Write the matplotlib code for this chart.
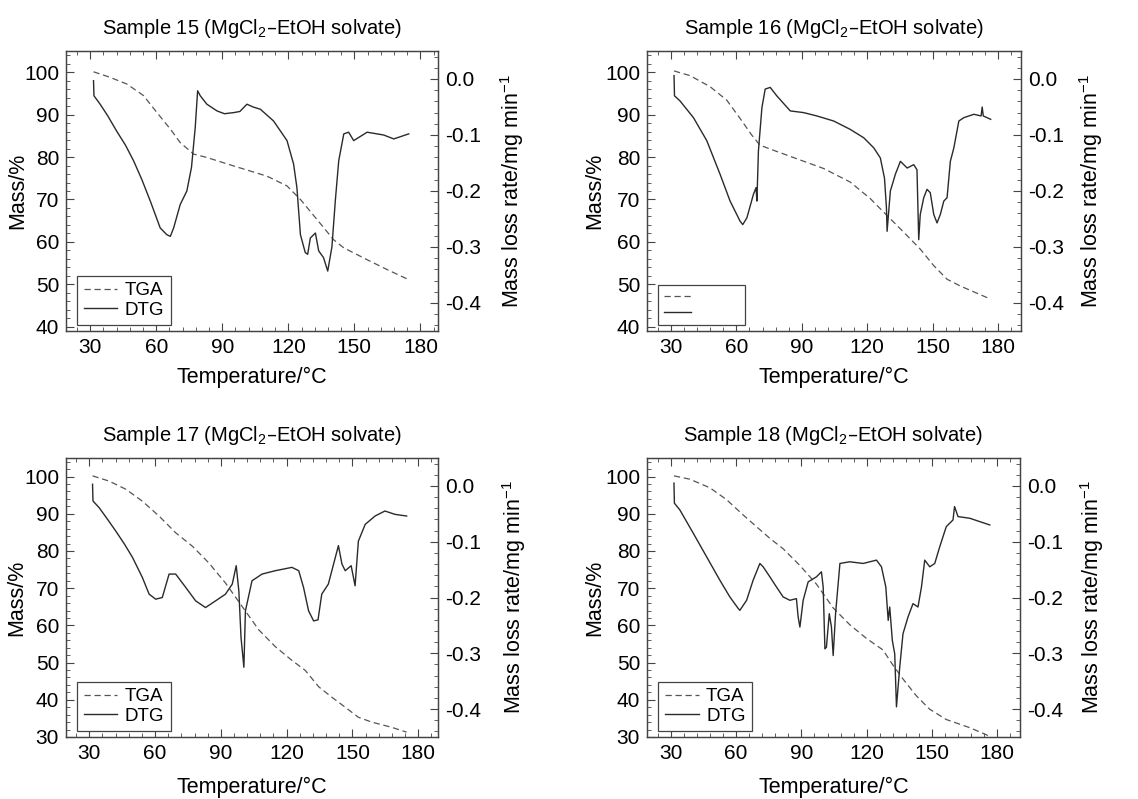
import matplotlib
matplotlib.use('Agg')
import matplotlib.pyplot as plt
from matplotlib.ticker import MultipleLocator, FormatStrFormatter

plt.rcParams['font.family'] = ['Liberation Sans', 'DejaVu Sans']
plt.rcParams['mathtext.default'] = 'regular'

# ---- sample 15 ----
t_tga_15 = [31.5, 39, 46.7, 54.2, 60.3, 66.4, 70.9, 77, 83, 95.2, 110.3, 119.4,
            125.5, 133, 140.6, 145.2, 155.8, 164.8, 174.7]
tga_15 = [100.1, 98.8, 97.2, 94.5, 90.5, 86.6, 83.4, 80.7, 79.9, 77.9, 75.5, 73.2,
          70.0, 65.3, 60.5, 58.6, 55.8, 53.5, 51.1]
t_dtg_15 = [31.5, 31.7, 34.5, 38, 42, 46, 49.7, 53.5, 57.3, 61.8, 64.8, 66.4, 67.9,
            70.9, 73.9, 76, 77.7, 78.8, 80, 83, 87.6, 91, 95.2, 98, 101.2, 104, 107.3,
            113.3, 119.4, 122.4, 123.9, 125.5, 127.7, 128.8, 130, 132.3, 133.8, 136,
            137.9, 139.8, 141.4, 142.9, 145.2, 147.4, 149.7, 155.8, 163.3, 167.9, 174.7]
dtg_15 = [-0.003, -0.03, -0.045, -0.066, -0.093, -0.118, -0.146, -0.18, -0.218, -0.266,
          -0.278, -0.281, -0.266, -0.224, -0.2, -0.158, -0.087, -0.021, -0.03, -0.045,
          -0.057, -0.062, -0.06, -0.058, -0.045, -0.05, -0.054, -0.075, -0.11, -0.152,
          -0.194, -0.278, -0.31, -0.313, -0.284, -0.275, -0.307, -0.319, -0.343, -0.3,
          -0.215, -0.146, -0.098, -0.095, -0.11, -0.095, -0.1, -0.107, -0.098]

# ---- sample 16 ----
t_tga_16 = [31.4, 38.7, 47.9, 55.6, 61.7, 67, 70.8, 77, 87.7, 100, 112.2, 121.4,
            129.1, 136.7, 144.3, 150.5, 156.6, 162.7, 176.6]
tga_16 = [100.3, 99.2, 96.6, 93.4, 89.1, 85.2, 82.8, 81.6, 79.6, 77.3, 74.1, 70.2,
          66.2, 62.3, 58.3, 54.4, 51.2, 49.6, 46.5]
t_dtg_16 = [31.4, 31.6, 34.1, 40.3, 46.4, 52.5, 57.1, 61.7, 62.9, 64.8, 67.8, 69, 69.4,
            70.1, 71.7, 73.2, 75.5, 78.5, 84.7, 90.8, 96.9, 104.6, 112.2, 118.4, 123,
            126, 127.9, 128.8, 129.1, 130.6, 132.9, 135.2, 138.3, 141.3, 142.8, 143.6,
            144.3, 145.9, 147.4, 148.9, 150.5, 152, 153.5, 155.1, 156.6, 158.1, 159.7,
            162, 164.3, 168.9, 172.2, 172.7, 173.2, 176.6]
dtg_16 = [0.006, -0.03, -0.039, -0.069, -0.11, -0.17, -0.218, -0.254, -0.26, -0.248,
          -0.206, -0.194, -0.218, -0.128, -0.051, -0.018, -0.015, -0.03, -0.057, -0.06,
          -0.066, -0.075, -0.09, -0.105, -0.123, -0.141, -0.177, -0.23, -0.272, -0.2,
          -0.17, -0.147, -0.159, -0.153, -0.162, -0.287, -0.242, -0.212, -0.197, -0.203,
          -0.242, -0.257, -0.242, -0.218, -0.212, -0.147, -0.123, -0.075, -0.069,
          -0.063, -0.066, -0.05, -0.066, -0.072]

# ---- sample 17 ----
t_tga_17 = [31.5, 39, 46.7, 54.2, 61.8, 69.4, 77, 84.5, 92.1, 99.7, 107.3, 114.8,
            122.4, 128.5, 134.6, 140.6, 146.7, 152.7, 158.8, 167.9, 174.7]
tga_17 = [100.2, 98.8, 96.6, 93.4, 89.4, 84.9, 81.3, 76.8, 71.4, 65.1, 58.8, 54.3,
          50.6, 47.9, 43.5, 40.7, 38.0, 35.3, 34.0, 32.6, 31.3]
t_dtg_17 = [31.5, 31.7, 34.5, 38, 42.1, 46, 49.7, 54.2, 57.3, 60.3, 63.3, 66.4, 69.4,
            74, 78.5, 83, 87.6, 92.1, 95.2, 97, 98.2, 99.2, 100.5, 101.2, 104.2, 108.8,
            114.8, 122.4, 125.5, 127.7, 130, 132.3, 134.3, 136, 139, 141.4, 143.6, 145.2,
            146.7, 149.4, 151.2, 152.7, 155.8, 160.3, 164.8, 169.4, 174.7]
dtg_17 = [0.003, -0.027, -0.039, -0.058, -0.081, -0.104, -0.128, -0.164, -0.194, -0.203,
          -0.2, -0.158, -0.158, -0.182, -0.206, -0.218, -0.206, -0.194, -0.176, -0.143,
          -0.188, -0.272, -0.325, -0.224, -0.17, -0.158, -0.152, -0.146, -0.152,
          -0.182, -0.224, -0.242, -0.24, -0.194, -0.176, -0.14, -0.107, -0.14, -0.152,
          -0.143, -0.179, -0.099, -0.069, -0.054, -0.045, -0.051, -0.054]

# ---- sample 18 ----
t_tga_18 = [31.4, 38.7, 47.9, 55.6, 63.2, 69.4, 75.5, 81.6, 89.3, 96.9, 104.6, 112.2,
            119.9, 127.5, 132.1, 136.7, 142.8, 148.9, 156.6, 167.4, 176.6]
tga_18 = [100.2, 99.3, 97.0, 93.8, 89.7, 86.5, 83.4, 80.6, 76.1, 71.1, 64.7, 60.2,
          56.5, 53.4, 49.3, 45.6, 41.1, 37.5, 34.7, 32.5, 30.2]
t_dtg_18 = [31.4, 31.6, 34.1, 40.3, 46.4, 52.5, 57.1, 61, 61.7, 64.8, 67.8, 70.9, 72.4,
            75.5, 78.5, 81.6, 84.7, 87.7, 88.5, 89.3, 90.8, 93.1, 96.9, 99.2, 100,
            100.8, 101.5, 102.8, 103.8, 104.6, 105.7, 107.7, 112.2, 118.4, 124.5,
            126.8, 128.8, 129.9, 130.6, 131.8, 132.9, 133.7, 135.2, 136.7, 139, 141.3,
            143.6, 145.2, 146.7, 149, 151.3, 153.6, 156.6, 159.7, 160.4, 162, 167.4,
            176.6]
dtg_18 = [0.005, -0.031, -0.043, -0.085, -0.127, -0.169, -0.199, -0.22, -0.223, -0.205,
          -0.169, -0.139, -0.145, -0.163, -0.181, -0.199, -0.205, -0.202, -0.235,
          -0.253, -0.205, -0.172, -0.163, -0.154, -0.181, -0.292, -0.289, -0.229,
          -0.253, -0.304, -0.229, -0.139, -0.136, -0.139, -0.133, -0.145, -0.181,
          -0.241, -0.217, -0.277, -0.301, -0.396, -0.325, -0.265, -0.235, -0.211,
          -0.217, -0.181, -0.133, -0.145, -0.139, -0.109, -0.073, -0.061, -0.037,
          -0.055, -0.058, -0.07]

titles = ['Sample 15 (MgCl$_2$\u2013EtOH solvate)', 'Sample 16 (MgCl$_2$\u2013EtOH solvate)',
          'Sample 17 (MgCl$_2$\u2013EtOH solvate)', 'Sample 18 (MgCl$_2$\u2013EtOH solvate)']

W, H = 1138, 799
edge = '#444444'


def draw_panel(fig, box, title, t_tga, tga, t_dtg, dtg, xlim, ylim, labels,
               lab_x=(-0.105, 1.16), leg_size=13.5, xpad=7):
    x0, y0, x1, y1 = box
    ax = fig.add_axes([x0 / W, 1 - y1 / H, (x1 - x0) / W, (y1 - y0) / H])
    ax2 = ax.twinx()

    l1, = ax.plot(t_tga, tga, color='#555555', lw=0.9, dashes=(5, 3))
    l2, = ax2.plot(t_dtg, dtg, color='#2a2a2a', lw=1.0)

    ax.set_xlim(*xlim)
    ax.set_ylim(*ylim)
    ax2.set_ylim(-0.45, 0.05)
    ax.xaxis.set_major_locator(MultipleLocator(30))
    ax.xaxis.set_minor_locator(MultipleLocator(6))
    ax.yaxis.set_major_locator(MultipleLocator(10))
    ax.yaxis.set_minor_locator(MultipleLocator(2))
    ax2.yaxis.set_major_locator(MultipleLocator(0.1))
    ax2.yaxis.set_minor_locator(MultipleLocator(0.02))
    ax2.yaxis.set_major_formatter(FormatStrFormatter('%.1f'))

    for a in (ax, ax2):
        a.tick_params(which='both', direction='in', labelsize=15, color=edge, pad=5)
        a.tick_params(which='major', length=6)
        a.tick_params(which='minor', length=3)
        for s in a.spines.values():
            s.set_color(edge)
            s.set_linewidth(0.9)
    ax.tick_params(which='both', top=True, right=False)

    ax.set_xlabel('Temperature/\u00b0C', fontsize=15.5, labelpad=xpad)
    ax.set_ylabel('Mass/%', fontsize=15.5)
    ax2.set_ylabel('Mass loss rate/mg min$^{\u22121}$', fontsize=15.5)
    ax.yaxis.set_label_coords(lab_x[0], 0.5)
    ax2.yaxis.set_label_coords(lab_x[1], 0.5)
    ax.set_title(title, fontsize=14.5, pad=12)

    leg = ax2.legend([l1, l2], labels, loc='lower left', bbox_to_anchor=(0.03, 0.02),
                     borderaxespad=0, fontsize=leg_size, handlelength=1.8,
                     handletextpad=0.4, fancybox=False, framealpha=1,
                     edgecolor=edge, labelspacing=0.12, borderpad=0.35)
    leg.get_frame().set_linewidth(0.9)
    return ax


fig = plt.figure(figsize=(W / 100, H / 100), dpi=100)

draw_panel(fig, (66, 51, 438, 331), titles[0], t_tga_15, tga_15, t_dtg_15, dtg_15,
           (19, 188), (39, 105), ['TGA', 'DTG'], lab_x=(-0.102, 1.161))
draw_panel(fig, (647, 51, 1021, 331), titles[1], t_tga_16, tga_16, t_dtg_16, dtg_16,
           (19, 190.5), (39, 105), ['          ', '          '], lab_x=(-0.112, 1.15),
           leg_size=11)
draw_panel(fig, (66, 458, 438, 737), titles[2], t_tga_17, tga_17, t_dtg_17, dtg_17,
           (19.4, 189), (30, 105), ['TGA', 'DTG'], lab_x=(-0.105, 1.167), xpad=10)
draw_panel(fig, (647, 458, 1020, 737), titles[3], t_tga_18, tga_18, t_dtg_18, dtg_18,
           (19, 190.5), (30, 105), ['TGA', 'DTG'], lab_x=(-0.113, 1.155), xpad=10)

fig.savefig('out.png', dpi=100)
